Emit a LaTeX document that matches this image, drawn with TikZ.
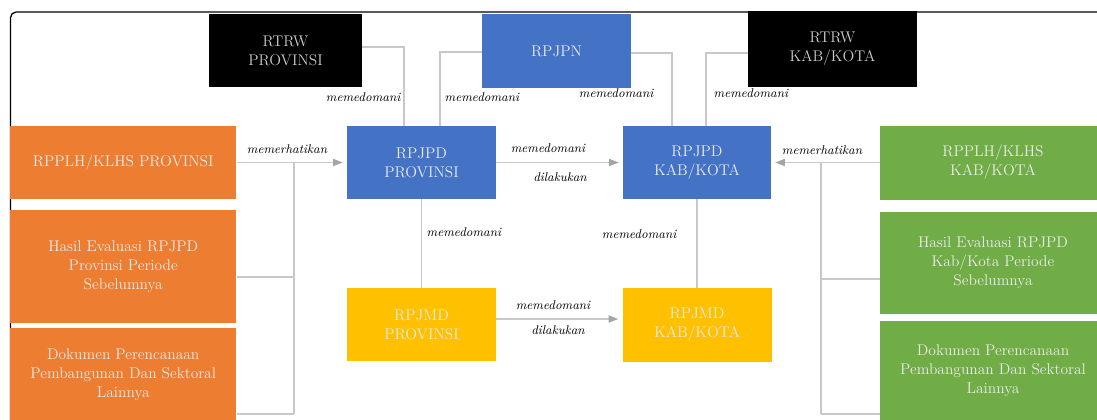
\documentclass[tikz,border=0pt]{standalone}
\usetikzlibrary{arrows.meta}
\definecolor{orng}{HTML}{ED7D31}
\definecolor{blu}{HTML}{4472C4}
\definecolor{yllw}{HTML}{FFC000}
\definecolor{grn}{HTML}{70AD47}
\definecolor{lnk}{HTML}{C8C8C8}
\definecolor{tipc}{HTML}{A5A5A5}
\newcommand{\pxu}{0.025cm}
\begin{document}
\begin{tikzpicture}[x=0.025cm, y=-0.025cm,
  box/.style={inner sep=0pt, align=center, text=white!92!black, font=\fontsize{11}{13.5}\selectfont},
  mid/.style={box, minimum width=149*\pxu, minimum height=73*\pxu},
  side/.style={box, minimum width=226*\pxu},
  link/.style={draw=lnk, line width=0.8pt},
  arr/.style={link, shorten >=0.1cm, -{Triangle[length=2.4mm, width=1.8mm, color=tipc]}},
  lbl/.style={font=\fontsize{9}{11}\selectfont\itshape, inner sep=1pt}]
\useasboundingbox (0,0) rectangle (1097,420);
\clip (0,0) rectangle (1097,420);

\coordinate (b1) at (404,47);
\coordinate (b2) at (440,52);
\coordinate (b3) at (672,53);
\coordinate (b4) at (706,53);
\coordinate (h1) at (294,277);
\coordinate (j1) at (294,414);
\coordinate (h2) at (821,279);
\coordinate (j2) at (821,414);
\coordinate (m1) at (560,319);

% frame
\draw[line width=0.9pt, rounded corners=4pt] (1110,12) -- (10.5,12) -- (10.5,440);

% top row
\node[mid, fill=black, minimum width=153*\pxu, text=white!80!black] (rtrwprov) at (285.5,50.5) {RTRW\\PROVINSI};
\node[mid, fill=blu, minimum height=74*\pxu] (rpjpn) at (556.5,51) {RPJPN};
\node[mid, fill=black, minimum width=169*\pxu, minimum height=76*\pxu, text=white!80!black] (rtrwkab) at (832.5,49) {RTRW\\KAB/KOTA};

% left column
\node[side, fill=orng, minimum height=73*\pxu] (rppprov) at (123.25,162.5) {RPPLH/KLHS PROVINSI};
\node[side, fill=orng, minimum height=113*\pxu] (hasilprov) at (123.25,266.5) {Hasil Evaluasi RPJPD\\Provinsi Periode\\Sebelumnya};
\node[side, fill=orng, minimum height=94*\pxu] (dokprov) at (123.25,375) {Dokumen Perencanaan\\Pembangunan Dan Sektoral\\Lainnya};

% right column
\node[side, fill=grn, minimum height=74*\pxu] (rppkab) at (993,162.5) {RPPLH/KLHS\\KAB/KOTA};
\node[side, fill=grn, minimum height=102*\pxu] (hasilkab) at (993,263) {Hasil Evaluasi RPJPD\\Kab/Kota Periode\\Sebelumnya};
\node[side, fill=grn, minimum height=100*\pxu] (dokkab) at (993,371) {Dokumen Perencanaan\\Pembangunan Dan Sektoral\\Lainnya};

% middle
\node[mid, fill=blu] (rpjpdprov) at (421.5,162.5) {RPJPD\\PROVINSI};
\node[mid, fill=blu, minimum width=148*\pxu] (rpjpdkab) at (697,162.5) {RPJPD\\KAB/KOTA};
\node[mid, fill=yllw] (rpjmdprov) at (421.5,324.5) {RPJMD\\PROVINSI};
\node[mid, fill=yllw, minimum height=74*\pxu] (rpjmdkab) at (697,325) {RPJMD\\KAB/KOTA};

% links from the top
\draw[link] (rtrwprov.east |- b1) -- (b1) -- (b1 |- rpjpdprov.north);
\draw[link] (rpjpn.west |- b2) -- (b2) -- (b2 |- rpjpdprov.north);
\draw[link] (rpjpn.east |- b3) -- (b3) -- (b3 |- rpjpdkab.north);
\draw[link] (rtrwkab.west |- b4) -- (b4) -- (b4 |- rpjpdkab.north);

% left side
\draw[arr] (rppprov) -- (rpjpdprov);
\draw[link] (j1 |- rppprov.east) -- (j1);
\draw[link] (hasilprov.east |- h1) -- (h1);
\draw[link] (dokprov.east |- j1) -- (j1);

% right side
\draw[arr] (rppkab) -- (rpjpdkab);
\draw[link] (j2 |- rppkab.west) -- (j2);
\draw[link] (hasilkab.west |- h2) -- (h2);
\draw[link] (dokkab.west |- j2) -- (j2);

% middle
\draw[arr] (rpjpdprov) -- (rpjpdkab);
\draw[link] (rpjpdprov) -- (rpjmdprov);
\draw[link] (rpjpdkab) -- (rpjmdkab);
\draw[arr] (rpjmdprov.east |- m1) -- (rpjmdkab.west |- m1);

\node[lbl, anchor=east] (l1) at (402,97) {memedomani};
\node[lbl, anchor=west] (l2) at (443,97) {memedomani};
\node[lbl, anchor=east] (l3) at (655,93) {memedomani};
\node[lbl, anchor=west] (l4) at (712,93) {memedomani};
\node[lbl] (l5) at (287,149) {memerhatikan};
\node[lbl] (l6) at (822,150) {memerhatikan};
\node[lbl] (l7) at (548,148) {memedomani};
\node[lbl] (l8) at (560,177) {dilakukan};
\node[lbl, anchor=west] (l9) at (425,232) {memedomani};
\node[lbl, anchor=east] (l10) at (678,234) {memedomani};
\node[lbl] (l11) at (553,305) {memedomani};
\node[lbl] (l12) at (558,330) {dilakukan};
\end{tikzpicture}
\end{document}
